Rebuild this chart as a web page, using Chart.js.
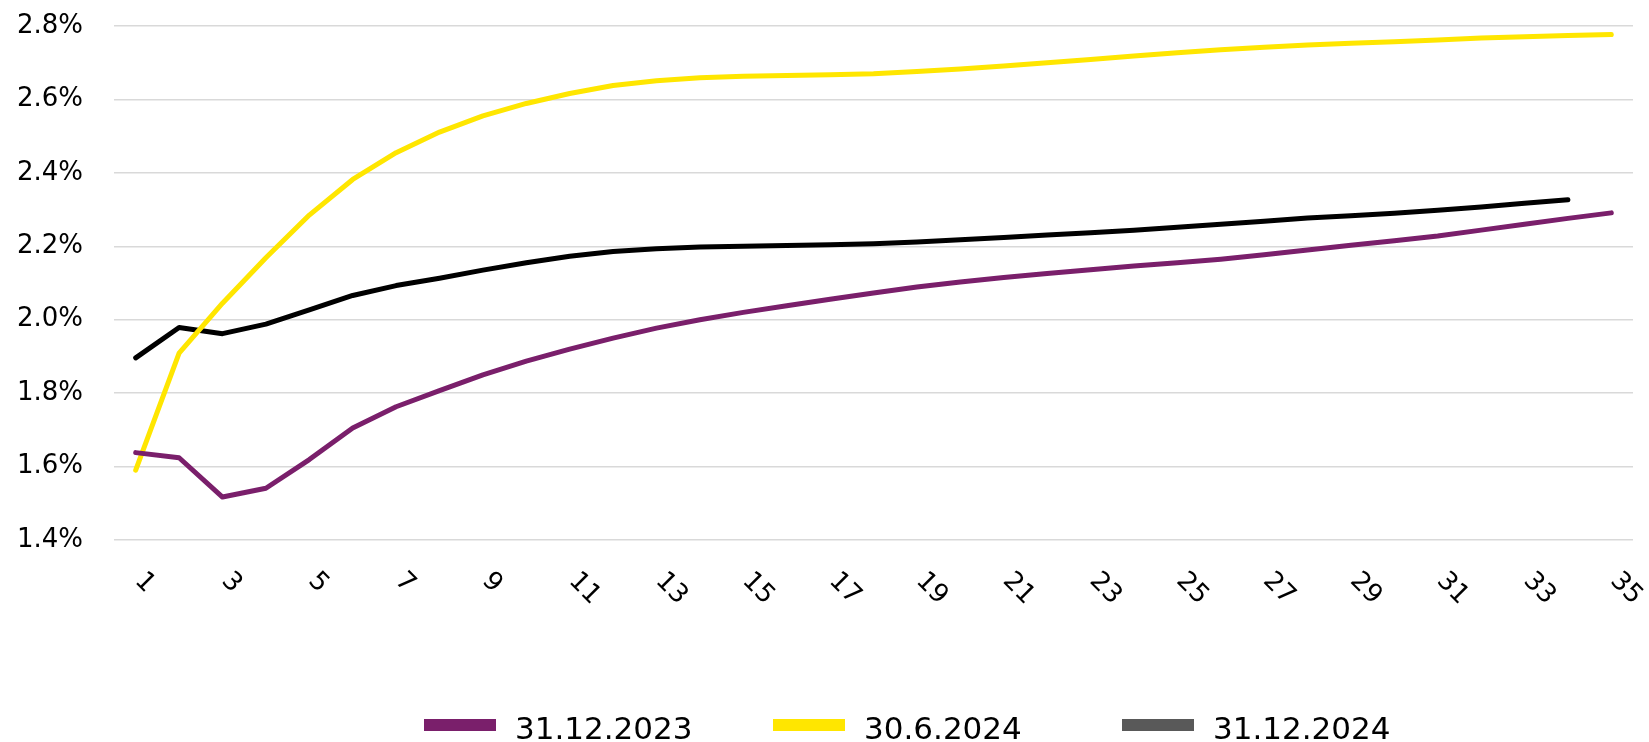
<!DOCTYPE html>
<html>
<head>
<meta charset="utf-8">
<title>Curves</title>
<script src="https://cdn.jsdelivr.net/npm/chart.js@4.4.1/dist/chart.umd.min.js"></script>
<style>
    body { margin: 0; background: #fff; }
    #wrap { position: relative; width: 1649px; height: 742px; }
    #legend {
        position: absolute; left: 424px; top: 710px;
        display: flex; font-family: "DejaVu Sans", sans-serif; font-size: 31px; color: #000;
    }
    #legend .item { display: inline-flex; align-items: center; width: 349px; white-space: nowrap; }
    #legend .box { display: inline-block; width: 72px; height: 12px; margin-right: 19px; position: relative; top: -3px; }
</style>
</head>
<body>
<div id="wrap">
    <canvas id="curveChart"></canvas>
    <div id="legend"></div>
</div>
<script>
// Data (values in %)
const categories = ['1', '2', '3', '4', '5', '6', '7', '8', '9', '10', '11', '12', '13', '14', '15', '16', '17', '18',
    '19', '20', '21', '22', '23', '24', '25', '26', '27', '28', '29', '30', '31', '32', '33', '34', '35'];
const xTickLabels = ['1', '3', '5', '7', '9', '11', '13', '15', '17', '19', '21', '23', '25', '27', '29', '31', '33', '35'];
const yTicks = [1.4, 1.6, 1.8, 2.0, 2.2, 2.4, 2.6, 2.8];

const seriesNames = ['31.12.2023', '30.6.2024', '31.12.2024'];
const lineColors = ['#7a1f6b', '#ffe600', '#000000'];
const legendColors = ['#7a1f6b', '#ffe600', '#595959'];

const dec2023 = [1.638, 1.624, 1.517, 1.541, 1.619, 1.705, 1.763, 1.807, 1.850, 1.887, 1.920, 1.950, 1.977, 2.000,
    2.020, 2.038, 2.056, 2.073, 2.089, 2.103, 2.115, 2.126, 2.136, 2.146, 2.155, 2.165, 2.177, 2.190, 2.203, 2.215,
    2.228, 2.244, 2.260, 2.276, 2.291];
const jun2024 = [1.590, 1.909, 2.045, 2.169, 2.285, 2.382, 2.455, 2.511, 2.555, 2.589, 2.616, 2.638, 2.651, 2.659,
    2.663, 2.665, 2.667, 2.670, 2.676, 2.683, 2.691, 2.700, 2.709, 2.718, 2.727, 2.735, 2.742, 2.748, 2.753, 2.757,
    2.762, 2.767, 2.771, 2.774, 2.777];
const dec2024 = [1.896, 1.979, 1.962, 1.988, 2.027, 2.066, 2.093, 2.113, 2.135, 2.155, 2.173, 2.186, 2.193, 2.198,
    2.200, 2.202, 2.204, 2.207, 2.212, 2.218, 2.224, 2.231, 2.237, 2.244, 2.252, 2.260, 2.268, 2.277, 2.283, 2.290,
    2.298, 2.307, 2.317, 2.327];

const seriesValues = [dec2023, jun2024, dec2024];

document.addEventListener('DOMContentLoaded', function() {
    Chart.defaults.font.family = '"DejaVu Sans", sans-serif';
    Chart.defaults.color = '#000';

    // x labels are turned clockwise, which Chart.js can't do itself
    const rotatedXLabels = {
        id: 'rotatedXLabels',
        afterDraw(chart) {
            const ctx = chart.ctx;
            const xScale = chart.scales.x;
            ctx.save();
            ctx.font = '26px "DejaVu Sans", sans-serif';
            ctx.fillStyle = '#000';
            ctx.textAlign = 'left';
            ctx.textBaseline = 'middle';
            categories.forEach(function(cat, i) {
                if (!xTickLabels.includes(cat)) return;
                ctx.save();
                ctx.translate(xScale.getPixelForValue(i) + 3, chart.chartArea.bottom + 37);
                ctx.rotate(Math.PI / 4);
                ctx.fillText(cat, 0, 0);
                ctx.restore();
            });
            ctx.restore();
        }
    };

    const ctx = document.getElementById('curveChart').getContext('2d');
    new Chart(ctx, {
        type: 'line',
        data: {
            labels: categories,
            datasets: seriesNames.map(function(name, i) {
                return {
                    label: name,
                    data: seriesValues[i],
                    borderColor: lineColors[i],
                    backgroundColor: legendColors[i],
                    borderWidth: 5,
                    borderCapStyle: 'round',
                    borderJoinStyle: 'round',
                    pointRadius: 0,
                    tension: 0,
                    fill: false
                };
            })
        },
        options: {
            responsive: true,
            maintainAspectRatio: false,
            animation: false,
            layout: { padding: { left: 17, right: 16, top: 26, bottom: 202 }, autoPadding: false },
            plugins: {
                legend: { display: false },
                tooltip: { enabled: false }
            },
            scales: {
                x: {
                    offset: true,
                    grid: { display: false, drawTicks: false },
                    border: { display: false },
                    ticks: { display: false },
                    afterFit: function(scale) {
                        scale.height = 0;
                        scale.paddingLeft = 0;
                        scale.paddingRight = 0;
                    }
                },
                y: {
                    min: yTicks[0],
                    max: yTicks[yTicks.length - 1],
                    grid: { color: '#d9d9d9', lineWidth: 1.5, drawTicks: false },
                    border: { display: false },
                    ticks: {
                        stepSize: 0.2,
                        padding: 31,
                        font: { size: 26 },
                        callback: function(value) { return value.toFixed(1) + '%'; }
                    },
                    afterFit: function(scale) {
                        scale.width = 97;
                        scale.paddingTop = 0;
                        scale.paddingBottom = 0;
                    }
                }
            }
        },
        plugins: [rotatedXLabels]
    });

    // Legend
    const legend = document.getElementById('legend');
    legend.innerHTML = seriesNames.map(function(name, i) {
        return `<span class="item"><span class="box" style="background:${legendColors[i]}"></span>${name}</span>`;
    }).join('');
});
</script>
</body>
</html>
